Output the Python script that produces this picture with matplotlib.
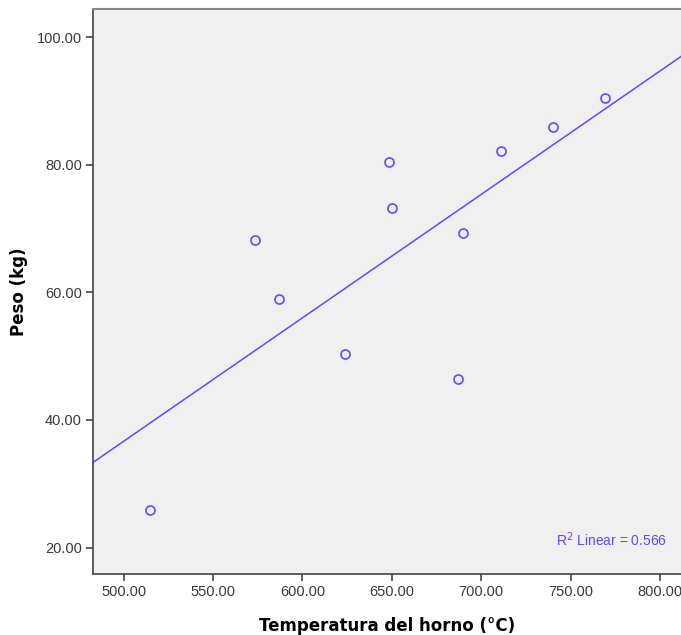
import numpy as np
import matplotlib.pyplot as plt

plt.rcParams['font.family'] = ['Liberation Sans', 'DejaVu Sans']

# temperatura del horno (C) y peso (kg)
temp = [514.7, 573.3, 586.7, 624.0, 648.5, 650.0, 687.2, 689.7, 711.0, 740.2, 769.3]
peso = [25.85, 68.2, 58.95, 50.37, 80.44, 73.27, 46.45, 69.25, 82.16, 85.93, 90.43]

xticks = [500, 550, 600, 650, 700, 750, 800]
yticks = [20, 40, 60, 80, 100]

col = '#5b4cff'

fig = plt.figure(figsize=(6.81, 6.35), dpi=100)
fig.patch.set_facecolor('white')
ax = fig.add_axes([0.1366, 0.0956, 0.8634, 0.8902])
ax.set_facecolor('#f0f0f0')

ax.set_xlim(482.8, 811.8)
ax.set_ylim(15.8, 104.45)

b, a = np.polyfit(temp, peso, 1)
xx = np.array(ax.get_xlim())
ax.plot(xx, a + b * xx, color=col, lw=1.1, zorder=2)
ax.plot(temp, peso, 'o', mfc='none', mec=col, mew=1.2, ms=6.5, zorder=3)

ax.set_xticks(xticks)
ax.set_xticklabels(['%.2f' % v for v in xticks])
ax.set_yticks(yticks)
ax.set_yticklabels(['%.2f' % v for v in yticks])
ax.tick_params(direction='out', length=5, width=1.2, color='#444444',
               labelsize=10.5, labelcolor='#3a3a3a', pad=3)

ax.spines['right'].set_visible(False)
ax.spines['top'].set_color('#888888')
ax.spines['top'].set_linewidth(1.5)
for s in ['left', 'bottom']:
    ax.spines[s].set_color('#444444')
    ax.spines[s].set_linewidth(1.2)

ax.set_xlabel('Temperatura del horno (°C)', fontsize=12, fontweight='bold',
              family='DejaVu Sans', labelpad=13)
ax.set_ylabel('Peso (kg)', fontsize=12, fontweight='bold',
              family='DejaVu Sans', labelpad=6)

ax.text(0.976, 0.061, 'R$^2$ Linear = 0.566', transform=ax.transAxes,
        ha='right', va='center', fontsize=10, color=col)

fig.savefig('out.png', dpi=100)
